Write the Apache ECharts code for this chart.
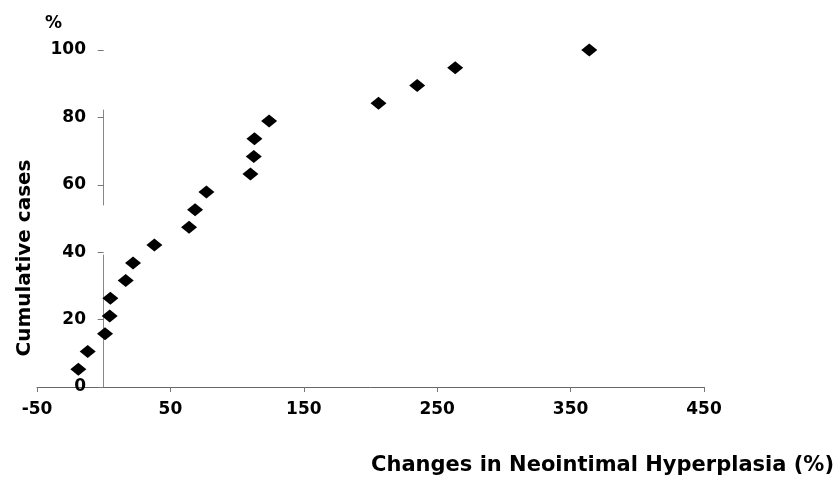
<!DOCTYPE html>
<html>
<head>
<meta charset="utf-8">
<script src="https://cdn.jsdelivr.net/npm/echarts@6/dist/echarts.min.js"></script>
<style>
  html, body { margin: 0; padding: 0; background: #fff; }
  #chart { width: 836px; height: 479px; }
</style>
</head>
<body>
<div id="chart"></div>
<script>
// change in neointimal hyperplasia (%) per case, sorted
const changes = [-19, -12, 1, 4.5, 5, 16.5, 22, 38, 64, 68.5, 77, 110, 112.5, 113, 124, 206, 235, 263.5, 364];
// cumulative share of cases (%)
const cumulative = [5.3, 10.5, 15.8, 21.1, 26.3, 31.6, 36.8, 42.1, 47.4, 52.6, 57.9, 63.2, 68.4, 73.7, 78.9, 84.2, 89.5, 94.7, 100];

const font = 'DejaVu Sans';

const chart = echarts.init(document.getElementById('chart'));
chart.setOption({
  animation: false,
  backgroundColor: '#fff',
  grid: { left: 37, right: 132, top: 50, bottom: 92, outerBoundsMode: 'none', containLabel: false },
  xAxis: {
    type: 'value',
    min: -50,
    max: 450,
    interval: 100,
    splitLine: { show: false },
    axisLine: { lineStyle: { color: '#666', width: 1 } },
    axisTick: { length: 5, lineStyle: { color: '#777' } },
    axisLabel: { margin: 14, color: '#000', fontFamily: font, fontWeight: 'bold', fontSize: 17 }
  },
  yAxis: {
    type: 'value',
    min: 0,
    max: 100,
    interval: 20,
    splitLine: { show: false },
    axisLine: { onZero: true, lineStyle: { color: '#888', width: 1, type: [132, 50, 95, 80] } },
    axisTick: { length: 6, lineStyle: { color: '#777' } },
    // labels sit at the grid edge, pull them in next to the axis at x = 0
    axisLabel: { margin: -49, color: '#000', fontFamily: font, fontWeight: 'bold', fontSize: 17 }
  },
  graphic: [
    {
      type: 'text', left: 45, top: 15,
      style: { text: '%', fill: '#000', font: 'bold 17px "DejaVu Sans"' }
    },
    {
      type: 'text', x: 25, y: 258, rotation: Math.PI / 2,
      style: { text: 'Cumulative cases', fill: '#000', align: 'center', verticalAlign: 'middle', font: 'bold 20px "DejaVu Sans"' }
    },
    {
      type: 'text', right: 2, top: 455,
      style: { text: 'Changes in Neointimal Hyperplasia (%)', fill: '#000', font: 'bold 21px "DejaVu Sans"' }
    }
  ],
  series: [{
    type: 'scatter',
    symbol: 'diamond',
    symbolSize: [16, 13],
    itemStyle: { color: '#000', opacity: 1 },
    data: changes.map((x, i) => [x, cumulative[i]])
  }]
});
</script>
</body>
</html>
